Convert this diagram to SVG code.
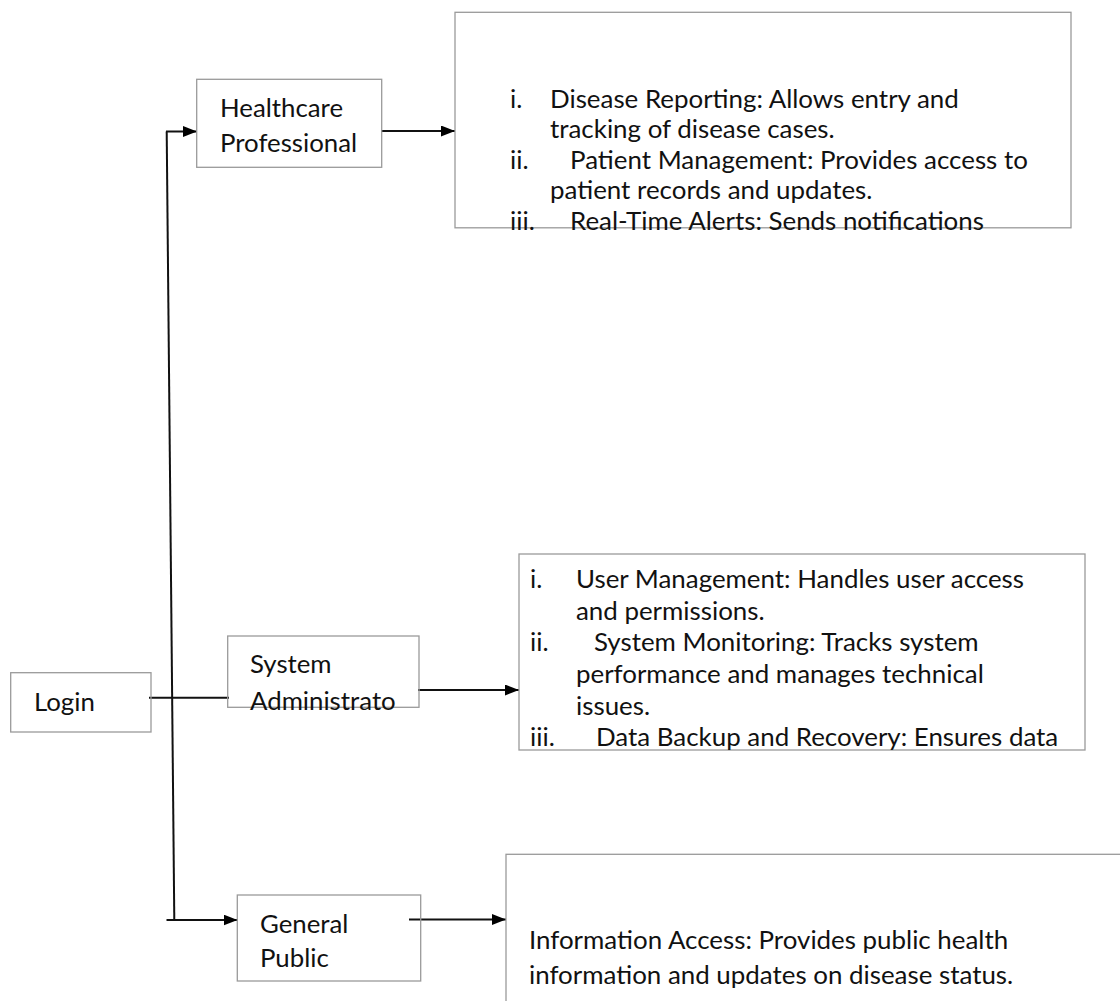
<svg xmlns="http://www.w3.org/2000/svg" width="1120" height="1001" viewBox="0 0 1120 1001">
  <defs>
    <marker id="arrow" viewBox="0 0 14 11" refX="14" refY="5.5" markerWidth="14" markerHeight="11" markerUnits="userSpaceOnUse" orient="auto">
      <path d="M0,0 L14,5.5 L0,11 Z" fill="#000"/>
    </marker>
    <style>
      .box { fill: none; stroke: #9a9a9a; stroke-width: 1.3; }
      .lbl { font-family: Lato, "Liberation Sans", sans-serif; font-size: 25.8px; fill: #111; }
      .txt { font-family: Lato, "Liberation Sans", sans-serif; font-size: 25.9px; fill: #111; }
      .info { font-family: Lato, "Liberation Sans", sans-serif; font-size: 25.9px; fill: #111; }
      .wire { fill: none; stroke: #111; stroke-width: 2; }
    </style>
  </defs>
  <rect width="1120" height="1001" fill="#fff"/>

  <!-- connectors -->
  <g id="connectors">
    <line class="wire" x1="166.7" y1="131.5" x2="174.3" y2="920"/>
    <line class="wire" x1="166" y1="131.5" x2="197" y2="131.5" marker-end="url(#arrow)"/>
    <line class="wire" x1="381" y1="131" x2="455" y2="131" marker-end="url(#arrow)"/>
    <line class="wire" x1="149" y1="697.7" x2="229" y2="697.7" stroke-width="1.6"/>
    <line class="wire" x1="418" y1="690" x2="519" y2="690" marker-end="url(#arrow)"/>
    <line class="wire" x1="166.5" y1="920" x2="237.5" y2="920" marker-end="url(#arrow)"/>
    <line class="wire" x1="409" y1="919.5" x2="506" y2="919.5" marker-end="url(#arrow)"/>
  </g>

  <!-- login -->
  <g id="login">
    <rect class="box" x="10.7" y="672.7" width="140.3" height="59.3"/>
    <text class="lbl" x="34" y="710.7">Login</text>
  </g>

  <!-- healthcare professional -->
  <g id="healthcare-professional">
    <rect class="box" x="196.7" y="79.3" width="185" height="88"/>
    <text class="lbl" x="220" y="116.7">Healthcare</text>
    <text class="lbl" x="220" y="151.7">Professional</text>
  </g>

  <g id="healthcare-functions">
    <rect class="box" x="455" y="12.3" width="616" height="215.5"/>
    <text class="txt" x="510" y="108">i.</text>
    <text class="txt" x="550" y="108">Disease Reporting: Allows entry and</text>
    <text class="txt" x="550" y="137.5">tracking of disease cases.</text>
    <text class="txt" x="510" y="168.5">ii.</text>
    <text class="txt" x="570" y="168.5">Patient Management: Provides access to</text>
    <text class="txt" x="550" y="198.6">patient records and updates.</text>
    <text class="txt" x="510" y="230">iii.</text>
    <text class="txt" x="570" y="230">Real-Time Alerts: Sends notifications</text>
  </g>

  <!-- system administrator -->
  <g id="system-administrator">
    <rect class="box" x="227.7" y="636" width="191.3" height="71.3"/>
    <text class="lbl" x="250" y="673">System</text>
    <text class="lbl" x="250" y="710">Administrato</text>
  </g>

  <g id="administrator-functions">
    <rect class="box" x="519" y="554" width="566" height="196"/>
    <text class="txt" x="530" y="588">i.</text>
    <text class="txt" x="576" y="588">User Management: Handles user access</text>
    <text class="txt" x="576" y="620">and permissions.</text>
    <text class="txt" x="530" y="651">ii.</text>
    <text class="txt" x="594" y="651">System Monitoring: Tracks system</text>
    <text class="txt" x="576" y="683">performance and manages technical</text>
    <text class="txt" x="576" y="715">issues.</text>
    <text class="txt" x="530" y="746">iii.</text>
    <text class="txt" x="596" y="746">Data Backup and Recovery: Ensures data</text>
  </g>

  <!-- general public -->
  <g id="general-public">
    <rect class="box" x="237.3" y="895" width="183.4" height="86"/>
    <text class="lbl" x="260" y="932.7">General</text>
    <text class="lbl" x="260" y="966.7">Public</text>
  </g>

  <g id="public-functions">
    <rect class="box" x="506" y="854.3" width="625" height="160"/>
    <text class="info" x="529" y="949">Information Access: Provides public health</text>
    <text class="info" x="529" y="984">information and updates on disease status.</text>
  </g>
</svg>
